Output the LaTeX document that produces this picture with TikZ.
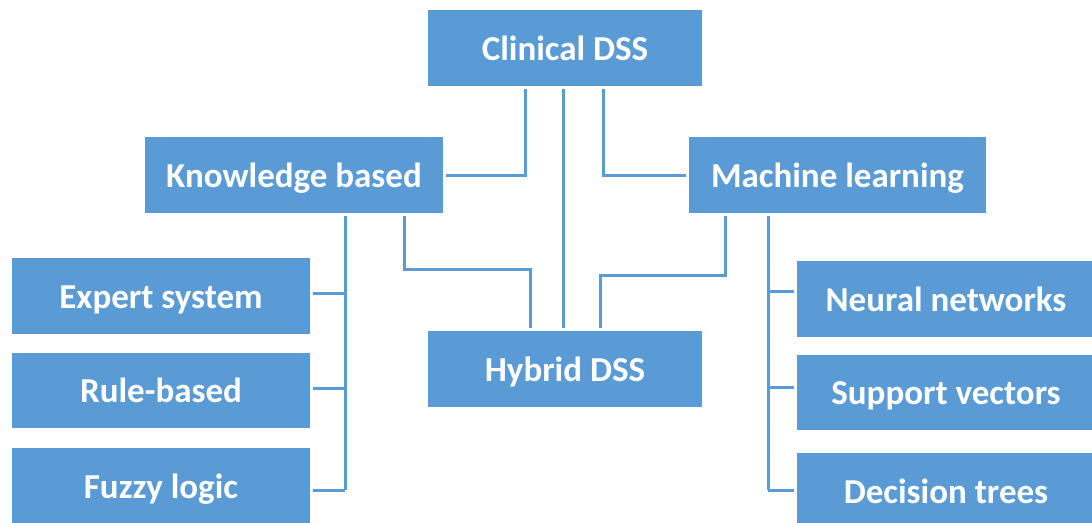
\documentclass[tikz,border=0pt]{standalone}
\usepackage{fontspec}
\setmainfont{Carlito}
\usetikzlibrary{calc}
\definecolor{boxblue}{HTML}{5B9BD5}
\tikzset{
  box/.style={rectangle, fill=boxblue, text=white, inner sep=0pt,
    text height=31pt, text depth=7pt,
    font=\fontsize{35}{40}\selectfont\bfseries},
  mainbox/.style={box, minimum width=274pt, minimum height=76pt},
  widebox/.style={box, minimum width=298pt, minimum height=76pt},
  link/.style={draw=boxblue, line width=3pt, shorten <=3pt, shorten >=3pt},
  branch/.style={draw=boxblue, line width=3pt, shorten >=3pt},
}
\begin{document}
\begin{tikzpicture}[x=1pt,y=-1pt]
\clip (0,0) rectangle (1092,522);
\useasboundingbox (0,0) rectangle (1092,522);

% top level and hybrid
\node[mainbox] (cds) at (565,48) {Clinical DSS};
\node[widebox] (kb) at (294,175) {Knowledge based};
\node[widebox, minimum width=297pt] (ml) at (837.5,175) {Machine learning};
\node[mainbox] (hyb) at (565,369) {Hybrid DSS};

% knowledge-based methods
\node[widebox] (es) at (161,296) {Expert system};
\node[widebox, minimum height=75pt] (rb) at (161,390.5) {Rule-based};
\node[widebox] (fl) at (161,486) {Fuzzy logic};

% machine-learning methods
\node[widebox] (nn) at (946,299) {Neural networks};
\node[widebox, minimum height=75pt] (sv) at (946,392.5) {Support vectors};
\node[widebox] (dt) at (946,491) {Decision trees};

% links from the clinical DSS
\draw[link] ($(cds.south)+(-40,0)$) |- (kb.east);
\draw[link] ($(cds.south)+(-2,0)$) -- ($(hyb.north)+(-2,0)$);
\draw[link] ($(cds.south)+(38,0)$) |- (ml.west);

% links into the hybrid DSS
\draw[link] ($(kb.south)+(110,0)$) -- ++(0,56) -| ($(hyb.north)+(-35,0)$);
\draw[link] ($(ml.south)+(-112,0)$) -- ++(0,62) -| ($(hyb.north)+(35,0)$);

% knowledge-based tree
\coordinate (kbt) at ($(kb.south)+(51,0)$);
\coordinate (esin) at ($(es.east)+(0,-3)$);
\coordinate (rbin) at ($(rb.east)+(0,-2)$);
\coordinate (flin) at ($(fl.east)+(0,4)$);
\draw[link, shorten >=0pt] (kbt) -- (kbt |- flin);
\draw[branch] (kbt |- esin) -- (esin);
\draw[branch] (kbt |- rbin) -- (rbin);
\draw[branch] (kbt |- flin) -- (flin);

% machine-learning tree
\coordinate (mlt) at ($(ml.south)+(-69.5,0)$);
\coordinate (nnin) at ($(nn.west)+(0,-8)$);
\coordinate (svin) at ($(sv.west)+(0,-5)$);
\coordinate (dtin) at ($(dt.west)+(0,-1)$);
\draw[link, shorten >=0pt] (mlt) -- (mlt |- dtin);
\draw[branch] (mlt |- nnin) -- (nnin);
\draw[branch] (mlt |- svin) -- (svin);
\draw[branch] (mlt |- dtin) -- (dtin);
\end{tikzpicture}
\end{document}
